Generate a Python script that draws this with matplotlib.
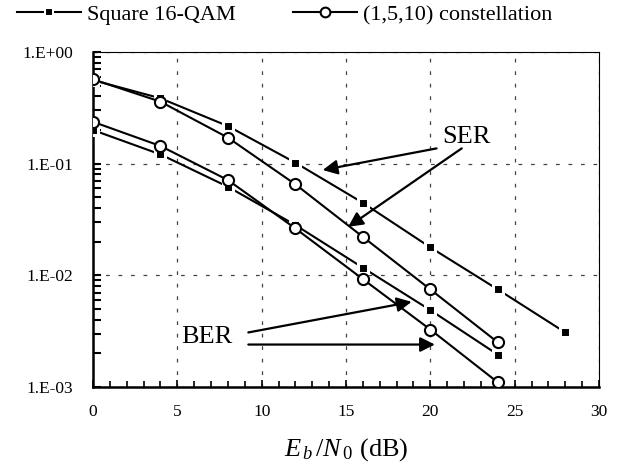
import numpy as np
import matplotlib
matplotlib.use('Agg')
import matplotlib.pyplot as plt
from matplotlib.lines import Line2D
from matplotlib.ticker import FixedLocator, MultipleLocator, FuncFormatter

plt.rcParams['font.family'] = ['Liberation Serif', 'DejaVu Serif']
plt.rcParams['mathtext.fontset'] = 'custom'
plt.rcParams['mathtext.rm'] = 'Liberation Serif'
plt.rcParams['mathtext.it'] = 'Liberation Serif:italic'

# Eb/N0 (dB)
snr_qam = [0, 4, 8, 12, 16, 20, 24, 28]
snr_con = [0, 4, 8, 12, 16, 20, 24]

# square 16-QAM
ser_qam = [0.56, 0.385, 0.217, 0.102, 0.0446, 0.0178, 0.00748, 0.00308]
ber_qam = [0.200, 0.121, 0.0621, 0.0282, 0.0117, 0.00488, 0.00195]

# (1,5,10) constellation
ser_con = [0.569, 0.359, 0.171, 0.0653, 0.0221, 0.00748, 0.00251]
ber_con = [0.237, 0.144, 0.0713, 0.0263, 0.00925, 0.00327, 0.00110]

ytick_vals = [1e0, 1e-1, 1e-2, 1e-3]
ytick_text = ['1.E+00', '1.E-01', '1.E-02', '1.E-03']


def ylab(v, pos):
    i = int(np.argmin([abs(np.log10(t) - np.log10(v)) for t in ytick_vals]))
    return ytick_text[i]


fig = plt.figure(figsize=(6.34, 4.68), dpi=100)
ax = fig.add_axes([93/634, 1-387/468, 506/634, 335/468])

sq_style = dict(color='black', lw=1.5, marker='s', markersize=6.5,
                markerfacecolor='black', markeredgecolor='white', markeredgewidth=2.2)
ci_style = dict(color='black', lw=1.5, marker='o', markersize=8,
                markerfacecolor='white', markeredgecolor='black', markeredgewidth=1.5)

ax.semilogy(snr_qam, ser_qam, zorder=3, **sq_style)
ax.semilogy(snr_qam[:len(ber_qam)], ber_qam, zorder=3, **sq_style)
ax.semilogy(snr_con, ser_con, zorder=4, **ci_style)
ax.semilogy(snr_con, ber_con, zorder=4, **ci_style)

ax.set_xlim(0, 30)
ax.set_ylim(1e-3, 1)
ax.xaxis.set_major_locator(MultipleLocator(5))
ax.xaxis.set_minor_locator(MultipleLocator(1))
ax.yaxis.set_major_locator(FixedLocator(ytick_vals))
ax.yaxis.set_major_formatter(FuncFormatter(ylab))
ax.yaxis.set_minor_locator(matplotlib.ticker.LogLocator(base=10, subs=np.arange(2, 10)))
ax.yaxis.set_minor_formatter(matplotlib.ticker.NullFormatter())

ax.tick_params(axis='x', which='both', direction='in', top=False, labelsize=12.5, pad=12)
ax.tick_params(axis='x', which='major', length=5, width=1.2)
ax.tick_params(axis='x', which='minor', length=4, width=1.2)
ax.tick_params(axis='y', which='both', direction='in', right=False, labelsize=12.5, pad=14)
ax.tick_params(axis='y', which='major', length=6, width=1.5)
ax.tick_params(axis='y', which='minor', length=6, width=1.5)

ax.grid(True, which='major', color='#444444', linestyle=(0, (3, 7)), lw=0.9)

for side in ['left', 'bottom']:
    ax.spines[side].set_linewidth(1.8)
for side in ['top', 'right']:
    ax.spines[side].set_linewidth(0.8)

ax.set_xlabel(r'$E_{\,b}\,/N_{\,\mathrm{0}}$ (dB)', fontsize=19, labelpad=12)

# annotations
ann = dict(arrowstyle='-|>', color='black', lw=1.6, mutation_scale=22, shrinkA=0, shrinkB=0)
ax.text(22.15, 0.174, 'SER', fontsize=19, ha='center', va='center')
ax.annotate('', xy=(13.62, 0.0877), xytext=(20.37, 0.137), arrowprops=ann)
ax.annotate('', xy=(15.13, 0.0272), xytext=(21.86, 0.137), arrowprops=ann)
ax.text(6.74, 0.00278, 'BER', fontsize=19, ha='center', va='center')
ax.annotate('', xy=(18.89, 0.00579), xytext=(9.21, 0.00308), arrowprops=ann)
ax.annotate('', xy=(20.27, 0.0024), xytext=(9.21, 0.0024), arrowprops=ann)

# legend above the plot
h1 = Line2D([], [], color='black', lw=1.5, marker='s', markersize=6,
            markerfacecolor='black', markeredgecolor='white', markeredgewidth=1.5)
h2 = Line2D([], [], color='black', lw=1.5, marker='o', markersize=7,
            markerfacecolor='white', markeredgecolor='black', markeredgewidth=1.5)
leg_kw = dict(loc='center left', frameon=False, fontsize=16, handlelength=2.9,
              handletextpad=0.25, borderpad=0, borderaxespad=0, numpoints=1)
l1 = fig.legend([h1], ['Square 16-QAM'], bbox_to_anchor=(17/634, 1-15/468), **leg_kw)
l2 = fig.legend([h2], ['(1,5,10) constellation'], bbox_to_anchor=(293/634, 1-15/468), **leg_kw)

fig.savefig('out.png', dpi=100, facecolor='white')
